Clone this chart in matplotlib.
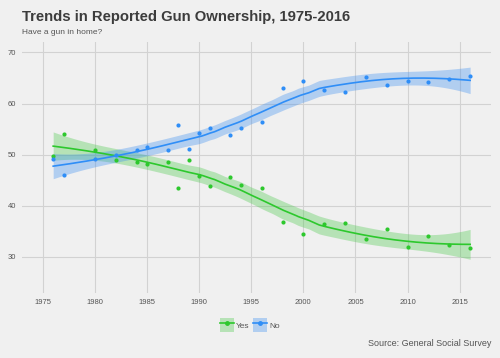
import numpy as np
import matplotlib
matplotlib.use("Agg")
import matplotlib.pyplot as plt
from matplotlib.patches import Patch
from matplotlib.lines import Line2D

plt.rcParams['font.family'] = ['Liberation Sans', 'DejaVu Sans']

years = [1976, 1977, 1980, 1982, 1984, 1985, 1987, 1988, 1989, 1990, 1991, 1993,
         1994, 1996, 1998, 2000, 2002, 2004, 2006, 2008, 2010, 2012, 2014, 2016]
yes_pct = [49.7, 54.0, 50.8, 48.9, 48.6, 48.1, 48.6, 43.4, 48.9, 45.9, 43.8, 45.55,
           44.0, 43.4, 36.8, 34.4, 36.5, 36.6, 33.4, 35.4, 32.0, 34.05, 32.2, 31.8]
no_pct = [49.2, 45.95, 49.2, 49.85, 50.9, 51.5, 50.96, 55.8, 51.15, 54.27, 55.2, 53.9,
          55.24, 56.3, 62.98, 64.5, 62.7, 62.2, 65.1, 63.6, 64.5, 64.2, 64.85, 65.4]
series_names = ["Yes", "No"]
colors = ["#2DC82D", "#2F8EF7"]
fills = ["#4CC94C", "#3D8FF0"]
x_ticks = [1975, 1980, 1985, 1990, 1995, 2000, 2005, 2010, 2015]
y_ticks = [30, 40, 50, 60, 70]


def loess_weights(x, x0, span=0.75):
    n = len(x)
    q = int(np.floor(n * span))
    d = np.abs(x - x0)
    h = np.sort(d)[q - 1]
    u = np.clip(d / h, 0, 1)
    w = (1 - u ** 3) ** 3
    X = np.column_stack([np.ones(n), x - x0, (x - x0) ** 2])
    XtW = X.T * w
    A = XtW @ X
    return np.linalg.solve(A, XtW)[0]


def loess(x, y, xs):
    x = np.asarray(x, float)
    y = np.asarray(y, float)
    L = np.array([loess_weights(x, xi) for xi in x])
    resid = y - L @ y
    IL = np.eye(len(x)) - L
    M = IL.T @ IL
    d1 = np.trace(M)
    d2 = np.trace(M @ M)
    sigma = np.sqrt(np.sum(resid ** 2) / d1)
    df = d1 ** 2 / d2
    z = 1.959964
    t = z + (z ** 3 + z) / (4 * df) + (5 * z ** 5 + 16 * z ** 3 + 3 * z) / (96 * df ** 2)
    fit = []
    se = []
    for x0 in xs:
        l = loess_weights(x, x0)
        fit.append(l @ y)
        se.append(sigma * np.sqrt(np.sum(l ** 2)))
    fit = np.array(fit)
    se = np.array(se)
    return fit, fit - t * se, fit + t * se


fig = plt.figure(figsize=(5.0, 3.58), dpi=100, facecolor="#F0F0F0")
ax = fig.add_axes([0.0434, 0.1816, 0.9386, 0.7019])
ax.set_facecolor("#F0F0F0")

xs = np.linspace(min(years), max(years), 200)
handles = []
for name, vals, c, fc in zip(series_names, [yes_pct, no_pct], colors, fills):
    fit, lo, hi = loess(years, vals, xs)
    ax.fill_between(xs, lo, hi, color=fc, alpha=0.35, linewidth=0, zorder=2)
    ax.plot(xs, fit, color=c, linewidth=1.2, zorder=3)
    ax.scatter(years, vals, s=9, color=c, zorder=4, linewidths=0)
    handles.append((Patch(facecolor=fc, alpha=0.35, edgecolor='none'),
                    Line2D([], [], color=c, linewidth=1.2, marker='o', markersize=2.5)))

ax.set_xlim(1972.98, 2018.0)
ax.set_ylim(22.9, 72.1)
ax.set_xticks(x_ticks)
ax.set_yticks(y_ticks)
ax.grid(True, color="#D2D2D2", linewidth=0.8)
ax.set_axisbelow(True)
for s in ax.spines.values():
    s.set_visible(False)
ax.tick_params(length=0, labelsize=5.5, labelcolor="#555555", pad=4)

fig.text(0.044, 0.953, "Trends in Reported Gun Ownership, 1975-2016", fontsize=10.7,
         fontweight='bold', color="#3C3C3C", va='center', ha='left')
fig.text(0.044, 0.91, "Have a gun in home?", fontsize=6, color="#555555", va='center', ha='left')
fig.text(0.982, 0.04, "Source: General Social Survey", fontsize=6.5, color="#555555",
         va='center', ha='right')

leg = fig.legend(handles, series_names, loc='center', bbox_to_anchor=(0.5, 0.092), ncol=2,
                 frameon=False, fontsize=6, handlelength=1.65, handleheight=2.2,
                 columnspacing=0.4, handletextpad=0.3, labelcolor="#555555",
                 borderaxespad=0, borderpad=0)

fig.savefig("out.png", dpi=100, facecolor=fig.get_facecolor())
